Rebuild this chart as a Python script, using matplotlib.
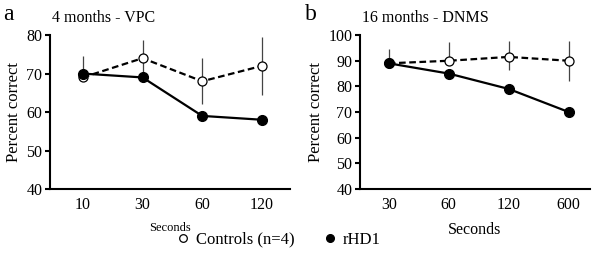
import matplotlib
matplotlib.use("Agg")
import matplotlib.pyplot as plt
from matplotlib.lines import Line2D

plt.rcParams['font.family'] = ['Liberation Serif', 'DejaVu Serif']

# Panel a: 4 months - VPC
a_labels = ["10", "30", "60", "120"]
a_ctrl = [69, 74, 68, 72]
a_ctrl_err_lo = [0, 4.7, 6, 7.6]
a_ctrl_err_hi = [5.5, 4.7, 6, 7.6]
a_rhd = [70, 69, 59, 58]

# Panel b: 16 months - DNMS
b_labels = ["30", "60", "120", "600"]
b_ctrl = [89, 90, 91.5, 90]
b_ctrl_err_lo = [0, 0, 5.1, 7.7]
b_ctrl_err_hi = [5.5, 7.4, 6.3, 7.8]
b_rhd = [89, 85, 79, 70]

fig = plt.figure(figsize=(6, 2.6), dpi=100)
axa = fig.add_axes([0.0833, 0.273, 0.40, 0.592])
axb = fig.add_axes([0.600, 0.273, 0.383, 0.592])

def draw(ax, labels, ctrl, lo, hi, rhd, ylim, yticks, xlim, title, xlab_size):
    x = list(range(len(labels)))
    ax.errorbar(x, ctrl, yerr=[lo, hi], fmt='none', ecolor='#444444', elinewidth=0.9, capsize=0, zorder=1)
    ax.plot(x, ctrl, ls=(0, (3, 1.6)), color='black', lw=1.6, marker='o', ms=6.5,
            mfc='white', mec='black', mew=0.9, zorder=2)
    ax.plot(x, rhd, ls='-', color='black', lw=1.6, marker='o', ms=7,
            mfc='black', mec='black', zorder=3)
    ax.set_ylim(*ylim)
    ax.set_yticks(yticks)
    ax.set_xlim(*xlim)
    ax.set_xticks(x)
    ax.set_xticklabels(labels)
    for s in ['top', 'right']:
        ax.spines[s].set_visible(False)
    for s in ['left', 'bottom']:
        ax.spines[s].set_linewidth(1.5)
    ax.tick_params(axis='x', length=0, labelsize=11.5, pad=6)
    ax.tick_params(axis='y', length=3.5, width=1.5, labelsize=11.5, pad=2)
    ax.set_ylabel("Percent correct", fontsize=12, labelpad=3)
    ax.set_xlabel("Seconds", fontsize=xlab_size, labelpad=6)
    ax.text(0.01, 1.06, title, transform=ax.transAxes, fontsize=11.5, ha='left', va='bottom')

draw(axa, a_labels, a_ctrl, a_ctrl_err_lo, a_ctrl_err_hi, a_rhd, (40, 80), [40, 50, 60, 70, 80],
     (-0.55, 3.47), "4 months - VPC", 9)
draw(axb, b_labels, b_ctrl, b_ctrl_err_lo, b_ctrl_err_hi, b_rhd, (40, 100), [40, 50, 60, 70, 80, 90, 100],
     (-0.48, 3.35), "16 months - DNMS", 11.5)

fig.text(0.005, 0.985, "a", fontsize=17, ha='left', va='top')
fig.text(0.508, 0.985, "b", fontsize=17, ha='left', va='top')

handles = [
    Line2D([], [], ls='none', marker='o', ms=5.5, mfc='white', mec='black', mew=0.9),
    Line2D([], [], ls='none', marker='o', ms=5.5, mfc='black', mec='black'),
]
fig.legend(handles, ["Controls (n=4)", "rHD1"], loc='center', bbox_to_anchor=(0.463, 0.078),
           ncol=2, frameon=False, fontsize=12, handletextpad=0.3, columnspacing=1.6,
           handlelength=1.0, borderpad=0.1)

fig.savefig("out.png", dpi=100)
